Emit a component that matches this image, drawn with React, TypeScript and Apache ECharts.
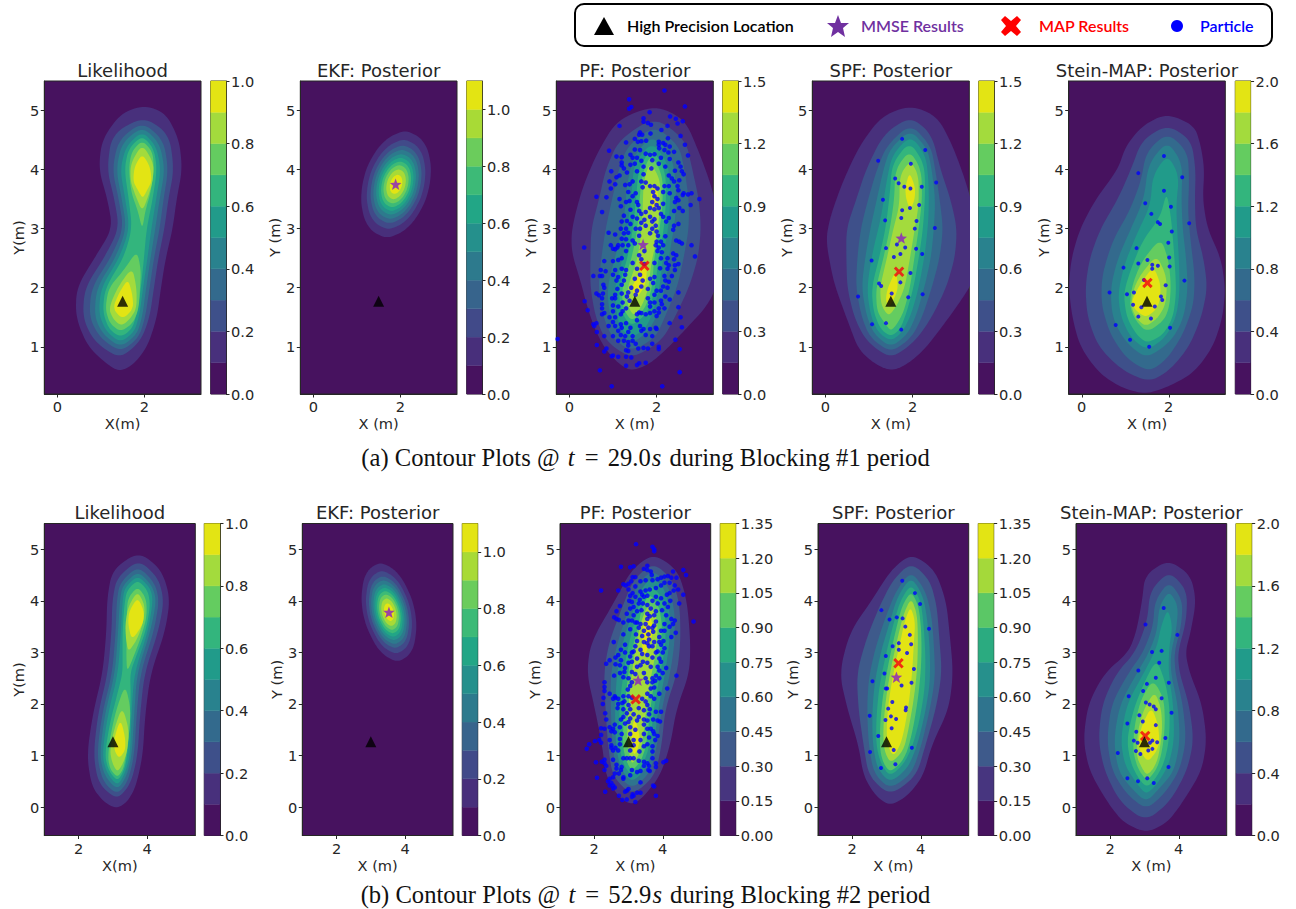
import React, { useEffect, useRef } from "react";
import * as echarts from "echarts";

type Rows = number[][];
type Outline = [number, Rows];

// ---------- colour bands ----------
const PAL9 = ["#47125f", "#47357f", "#3e5a8b", "#2f748e", "#26908c", "#2bab80", "#5bc766", "#a4d93a", "#e3e414"];
const PAL10 = ["#47125f", "#48307c", "#3e508a", "#336a8d", "#29828e", "#219b8a", "#33b57d", "#64cc60", "#a3db3d", "#e3e414"];
const PAL11 = ["#47125f", "#482f7b", "#414a89", "#37648c", "#2d7a8d", "#25908c", "#22a686", "#3dba77", "#6bcc5c", "#a8da36", "#e3e413"];

// ---------- colour-bar levels and ticks ----------
const LEVELS_1 = [0, .1, .2, .3, .4, .5, .6, .7, .8, .9, 1];
const LEVELS_11 = [0, .1, .2, .3, .4, .5, .6, .7, .8, .9, 1, 1.1];
const LEVELS_15 = [0, .15, .3, .45, .6, .75, .9, 1.05, 1.2, 1.35, 1.5];
const LEVELS_135 = [0, .15, .3, .45, .6, .75, .9, 1.05, 1.2, 1.35];
const LEVELS_2 = [0, .2, .4, .6, .8, 1, 1.2, 1.4, 1.6, 1.8, 2];
const TICKS_1 = [0, .2, .4, .6, .8, 1];
const TICKS_15 = [0, .3, .6, .9, 1.2, 1.5];
const TICKS_135 = [0, .15, .3, .45, .6, .75, .9, 1.05, 1.2, 1.35];
const TICKS_2 = [0, .4, .8, 1.2, 1.6, 2];

// ---------- contour outlines: [level index, rows of [y, x left, x right]] ----------
const A_LIK: Outline[] = [
[0,[[5.09,2,2],[4.95,1.45,2.5],[4.5,1.02,2.8],[4,.95,2.87],[3.5,1.15,2.74],[3,1.27,2.65],[2.5,.85,2.49],[2,.44,2.38],[1.5,.42,2.29],[1,.7,2.07],[.7,1.15,1.75],[.58,1.43,1.43]]],
[1,[[4.9,1.98,1.98],[4.6,1.25,2.57],[4,1.14,2.68],[3.5,1.31,2.55],[3,1.42,2.46],[2.5,1.07,2.32],[2,.63,2.22],[1.5,.58,2.12],[1.1,.83,1.92],[.79,1.43,1.43]]],
[2,[[4.81,1.95,1.95],[4.5,1.4,2.44],[4,1.26,2.55],[3.5,1.41,2.44],[3,1.52,2.35],[2.5,1.22,2.22],[2,.78,2.12],[1.5,.73,2.02],[1.15,.98,1.87],[.91,1.45,1.45]]],
[3,[[4.73,1.95,1.95],[4.45,1.48,2.35],[4,1.35,2.47],[3.5,1.48,2.35],[3,1.59,2.25],[2.5,1.33,2.14],[2,.9,2.04],[1.5,.85,1.95],[1.2,1.06,1.82],[.99,1.45,1.45]]],
[4,[[4.65,1.95,1.95],[4.4,1.58,2.27],[4,1.44,2.38],[3.5,1.56,2.27],[3,1.66,2.16],[2.5,1.42,2.07],[2,1,1.97],[1.55,.95,1.89],[1.25,1.13,1.77],[1.07,1.45,1.45]]],
[5,[[4.58,1.95,1.95],[4.35,1.63,2.22],[4,1.54,2.29],[3.5,1.64,2.19],[3,1.72,2.05],[2.5,1.52,1.99],[2,1.1,1.92],[1.6,1.04,1.84],[1.3,1.18,1.72],[1.16,1.45,1.45]]],
[6,[[4.5,1.95,1.95],[4.3,1.7,2.19],[4,1.64,2.22],[3.6,1.7,2.14],[3.3,1.85,2.02],[2.98,1.95,1.95]]],
[6,[[2.63,1.83,1.83],[2.3,1.53,1.92],[2,1.18,1.9],[1.65,1.1,1.87],[1.4,1.2,1.74],[1.25,1.45,1.45]]],
[7,[[4.44,1.95,1.95],[4.1,1.68,2.22],[3.8,1.68,2.19],[3.55,1.8,2.09],[3.29,1.95,1.95]]],
[7,[[2.35,1.72,1.72],[2,1.38,1.82],[1.65,1.18,1.82],[1.47,1.28,1.67],[1.35,1.47,1.47]]],
[8,[[4.27,1.95,1.95],[4.05,1.77,2.13],[3.8,1.74,2.17],[3.65,1.85,2.06],[3.51,1.96,1.96]]],
[8,[[2.15,1.62,1.62],[1.9,1.41,1.72],[1.65,1.27,1.75],[1.46,1.5,1.5]]],
];
const A_PF: Outline[] = [
[0,[[5.09,1.97,1.97],[4.85,1.1,2.65],[4.3,.65,2.97],[3.7,.3,3.27],[3,.05,3.47],[2.6,.05,3.47],[2.1,.26,3.42],[1.7,.4,3.17],[1.3,.58,2.67],[.95,.83,2.22],[.7,1.15,1.82],[.59,1.42,1.42]]],
[1,[[4.9,1.95,1.95],[4.5,1.13,2.67],[4,.83,2.82],[3.5,.68,2.97],[3,.5,3.02],[2.5,.48,2.95],[2,.48,2.74],[1.5,.6,2.42],[1.1,.83,2.12],[.79,1.42,1.42]]],
[2,[[4.75,1.95,1.95],[4.4,1.33,2.52],[4,1.13,2.64],[3.5,.98,2.74],[3,.83,2.74],[2.5,.73,2.62],[2,.66,2.47],[1.5,.78,2.19],[1.15,.98,1.97],[.92,1.42,1.42]]],
[3,[[4.58,1.9,1.9],[4.25,1.48,2.34],[3.8,1.33,2.44],[3.2,1.26,2.44],[2.6,1.08,2.3],[2,.86,2.2],[1.5,.93,1.99],[1.25,1.13,1.8],[1.05,1.42,1.42]]],
[4,[[4.48,1.9,1.9],[4.1,1.48,2.27],[3.6,1.43,2.32],[3,1.33,2.27],[2.5,1.23,2.14],[2,1.03,2.07],[1.55,1.08,1.9],[1.3,1.18,1.74],[1.15,1.42,1.42]]],
[5,[[4.38,1.88,1.88],[4,1.58,2.2],[3.5,1.53,2.22],[3,1.46,2.17],[2.5,1.33,2.04],[2,1.13,1.97],[1.6,1.18,1.82],[1.33,1.42,1.42]]],
[6,[[4.28,1.87,1.87],[3.9,1.66,2.14],[3.4,1.6,2.14],[3,1.56,2.07],[2.5,1.43,1.94],[2,1.2,1.9],[1.65,1.23,1.74],[1.42,1.43,1.43]]],
[7,[[4.14,1.85,1.85],[3.8,1.7,2.1],[3.3,1.68,2.07],[2.8,1.63,2],[2.4,1.53,1.87],[2,1.33,1.82],[1.7,1.33,1.67],[1.51,1.48,1.48]]],
[8,[[3.8,1.95,1.95],[3.5,1.84,2.06],[3.25,1.95,1.95]]],
[8,[[2.5,1.75,1.75],[2.2,1.57,1.78],[2,1.42,1.71],[1.8,1.52,1.52]]],
];
const A_SPF: Outline[] = [
[0,[[5.09,1.95,1.95],[4.9,1.28,2.57],[4.4,.78,2.92],[3.8,.4,3.22],[3.2,.11,3.44],[2.8,.01,3.44],[2.2,.16,3.44],[1.9,.28,3.22],[1.4,.53,2.74],[.95,.76,2.27],[.7,1.15,1.87],[.59,1.52,1.52]]],
[1,[[4.9,1.95,1.95],[4.6,1.33,2.44],[4,.93,2.64],[3.5,.71,2.87],[3,.48,3.02],[2.5,.48,2.97],[2,.5,2.77],[1.5,.66,2.44],[1.1,.93,2.07],[.79,1.5,1.5]]],
[2,[[4.78,1.95,1.95],[4.4,1.4,2.42],[4,1.18,2.52],[3.5,.98,2.62],[3,.81,2.7],[2.5,.73,2.62],[2,.7,2.44],[1.5,.83,2.22],[1.15,1.03,1.97],[.9,1.5,1.5]]],
[3,[[4.68,1.95,1.95],[4.35,1.48,2.34],[4,1.33,2.44],[3.5,1.18,2.52],[3,1.03,2.49],[2.5,.91,2.42],[2,.83,2.27],[1.5,.95,2.07],[1.2,1.13,1.87],[.99,1.5,1.5]]],
[4,[[4.58,1.95,1.95],[4.25,1.53,2.3],[3.8,1.4,2.37],[3.2,1.28,2.37],[2.6,1.08,2.29],[2,.95,2.14],[1.55,1.03,1.97],[1.25,1.2,1.77],[1.09,1.5,1.5]]],
[5,[[4.48,1.93,1.93],[4.1,1.53,2.27],[3.6,1.48,2.29],[3,1.38,2.24],[2.5,1.23,2.14],[2,1.06,2.02],[1.6,1.1,1.87],[1.3,1.26,1.72],[1.17,1.5,1.5]]],
[6,[[4.33,1.93,1.93],[4,1.6,2.2],[3.5,1.58,2.22],[3,1.48,2.14],[2.5,1.33,2.04],[2,1.16,1.94],[1.6,1.18,1.8],[1.38,1.38,1.64],[1.27,1.5,1.5]]],
[7,[[4.16,1.95,1.95],[3.9,1.7,2.14],[3.4,1.7,2.14],[3,1.56,2.05],[2.5,1.41,1.94],[2,1.25,1.82],[1.7,1.28,1.64],[1.51,1.45,1.45]]],
[8,[[3.96,1.93,1.93],[3.7,1.83,2.06],[3.5,1.85,2.05],[3.31,1.95,1.95]]],
[8,[[2.3,1.62,1.62],[2,1.43,1.67],[1.8,1.38,1.57],[1.65,1.45,1.45]]],
];
const A_STEIN: Outline[] = [
[0,[[4.95,1.95,1.95],[4.75,1.4,2.59],[4.4,1.01,2.74],[4,.83,2.82],[3.5,.32,2.78],[3,-.04,2.89],[2.5,-.24,3.2],[2,-.3,3.3],[1.5,-.22,3.24],[1,-.04,3.02],[.55,.4,2.57],[.3,.93,1.92],[.2,1.45,1.45]]],
[1,[[4.76,1.97,1.97],[4.5,1.38,2.52],[4,1.13,2.62],[3.5,.83,2.6],[3,.43,2.62],[2.5,.18,2.8],[2,.08,2.89],[1.5,.13,2.75],[1,.38,2.47],[.6,.93,2.02],[.4,1.55,1.55]]],
[2,[[4.63,1.97,1.97],[4.3,1.48,2.44],[3.8,1.36,2.47],[3.3,1.1,2.44],[2.8,.71,2.5],[2.2,.46,2.6],[1.7,.45,2.57],[1.2,.66,2.32],[.8,1.03,1.97],[.57,1.55,1.55]]],
[3,[[4.49,1.97,1.97],[4.1,1.53,2.32],[3.5,1.43,2.29],[3,1.13,2.32],[2.5,.83,2.4],[2,.66,2.44],[1.5,.7,2.35],[1.1,.98,2.07],[.79,1.48,1.48]]],
[4,[[4.26,1.97,1.97],[3.9,1.63,2.24],[3.4,1.58,2.17],[2.9,1.26,2.2],[2.4,.98,2.24],[1.9,.83,2.25],[1.5,.9,2.17],[1.15,1.13,1.92],[.94,1.5,1.5]]],
[5,[[3.63,1.95,1.95],[3.2,1.81,2.05],[2.8,1.4,2.1],[2.3,1.12,2.15],[1.9,.96,2.17],[1.5,1.03,2.1],[1.2,1.26,1.87],[1.06,1.5,1.5]]],
[6,[[2.85,1.82,1.82],[2.45,1.38,2],[2.05,1.16,2.05],[1.7,1.1,2.02],[1.45,1.23,1.9],[1.24,1.5,1.5]]],
[7,[[2.55,1.72,1.72],[2.25,1.38,1.92],[2,1.2,1.96],[1.7,1.13,1.92],[1.48,1.25,1.74],[1.34,1.47,1.47]]],
[8,[[2.37,1.65,1.65],[2.05,1.33,1.82],[1.75,1.13,1.79],[1.6,1.26,1.67],[1.5,1.47,1.47]]],
];
const B_LIK: Outline[] = [
[0,[[4.96,3.75,3.75],[4.6,2.98,4.42],[4.05,2.83,4.67],[3.4,2.81,4.52],[2.6,2.7,4.1],[1.8,2.41,3.94],[1,2.24,3.87],[.4,2.38,3.67],[.1,2.73,3.42],[-.03,3.1,3.1]]],
[1,[[4.8,3.75,3.75],[4.45,3.11,4.32],[4,2.98,4.49],[3.4,2.96,4.32],[2.6,2.85,3.92],[1.8,2.56,3.79],[1,2.43,3.72],[.45,2.58,3.52],[.14,3.12,3.12]]],
[2,[[4.68,3.73,3.73],[4.35,3.2,4.22],[4,3.11,4.35],[3.4,3.08,4.19],[2.6,2.98,3.8],[1.8,2.68,3.69],[1,2.53,3.62],[.5,2.7,3.44],[.24,3.12,3.12]]],
[3,[[4.58,3.73,3.73],[4.3,3.28,4.14],[4,3.2,4.27],[3.4,3.15,4.09],[2.6,3.06,3.7],[1.8,2.76,3.62],[1,2.61,3.55],[.6,2.76,3.4],[.33,3.13,3.13]]],
[4,[[4.5,3.72,3.72],[4.25,3.34,4.09],[4,3.28,4.17],[3.4,3.23,4.02],[2.6,3.15,3.62],[1.8,2.85,3.54],[1,2.68,3.5],[.65,2.83,3.35],[.41,3.13,3.13]]],
[5,[[4.41,3.72,3.72],[4.2,3.4,4.02],[3.9,3.33,4.09],[3.4,3.28,3.95],[2.95,3.28,3.69],[2.6,3.28,3.5],[2.2,3.13,3.52],[1.6,2.9,3.49],[1,2.76,3.42],[.7,2.88,3.32],[.5,3.13,3.13]]],
[6,[[4.28,3.72,3.72],[4.05,3.43,3.97],[3.7,3.4,3.99],[3.3,3.4,3.82],[2.95,3.39,3.62],[2.61,3.41,3.41]]],
[6,[[2.38,3.36,3.36],[1.9,3.1,3.52],[1.4,2.93,3.47],[.95,2.85,3.37],[.72,2.93,3.29],[.58,3.13,3.13]]],
[7,[[4.19,3.72,3.72],[3.9,3.45,3.94],[3.55,3.36,3.87],[3.25,3.38,3.7],[3,3.45,3.45]]],
[7,[[1.96,3.27,3.27],[1.5,3.03,3.47],[1.1,2.91,3.42],[.85,2.98,3.3],[.68,3.13,3.13]]],
[8,[[4.07,3.72,3.72],[3.8,3.47,3.91],[3.55,3.44,3.88],[3.23,3.55,3.55]]],
[8,[[1.71,3.22,3.22],[1.35,3.04,3.36],[1.1,3.04,3.36],[.94,3.18,3.18]]],
];
const B_PF: Outline[] = [
[0,[[4.92,3.72,3.72],[4.6,3.08,4.44],[4,2.6,4.71],[3.2,1.9,4.81],[2.6,1.78,4.78],[1.9,2.02,4.4],[1.2,2.23,4.22],[.6,2.34,3.92],[.2,2.7,3.44],[.04,3.1,3.1]]],
[1,[[4.75,3.72,3.72],[4.4,3.13,4.3],[3.9,2.83,4.5],[3.2,2.43,4.52],[2.6,2.28,4.42],[1.9,2.33,4.07],[1.2,2.4,3.97],[.6,2.53,3.77],[.22,3.1,3.1]]],
[2,[[4.61,3.7,3.7],[4.3,3.23,4.17],[3.8,2.98,4.35],[3.2,2.68,4.35],[2.6,2.48,4.22],[1.9,2.48,3.97],[1.2,2.53,3.84],[.65,2.66,3.62],[.35,3.1,3.1]]],
[3,[[4.48,3.7,3.7],[4.2,3.33,4.09],[3.7,3.08,4.22],[3.2,2.83,4.2],[2.6,2.66,4.07],[1.9,2.6,3.87],[1.2,2.63,3.74],[.75,2.76,3.52],[.47,3.1,3.1]]],
[4,[[4.33,3.65,3.65],[4.05,3.36,3.99],[3.6,3.18,4.09],[3.1,2.98,4.07],[2.5,2.83,3.9],[1.9,2.73,3.74],[1.2,2.73,3.62],[.85,2.83,3.44],[.59,3.1,3.1]]],
[5,[[4.14,3.62,3.62],[3.9,3.4,3.89],[3.5,3.28,3.99],[3,3.08,3.92],[2.4,2.96,3.74],[1.8,2.86,3.62],[1.2,2.83,3.52],[.9,2.93,3.37],[.69,3.1,3.1]]],
[6,[[3.99,3.62,3.62],[3.6,3.36,3.87],[3,3.18,3.8],[2.4,3.06,3.62],[1.8,2.98,3.5],[1.3,2.96,3.42],[1,3.03,3.3],[.83,3.1,3.1]]],
[7,[[3.76,3.6,3.6],[3.45,3.39,3.75],[3.1,3.4,3.57],[2.89,3.45,3.45]]],
[7,[[1.76,3.17,3.17],[1.4,3.09,3.33],[1.2,3.09,3.31],[.99,3.17,3.17]]],
];
const B_SPF: Outline[] = [
[0,[[4.92,3.73,3.73],[4.6,3.13,4.42],[4,2.56,4.74],[3.4,1.93,4.84],[2.6,1.62,4.95],[1.9,1.86,4.82],[1.2,2.18,4.32],[.6,2.33,4.07],[.22,2.68,3.62],[.02,3.1,3.1]]],
[1,[[4.75,3.72,3.72],[4.4,3.18,4.27],[3.9,2.8,4.47],[3.3,2.43,4.54],[2.6,2.13,4.62],[1.9,2.18,4.44],[1.2,2.33,4.14],[.6,2.48,3.87],[.22,3.1,3.1]]],
[2,[[4.58,3.72,3.72],[4.2,3.28,4.14],[3.7,2.98,4.32],[3.1,2.68,4.39],[2.5,2.48,4.42],[1.9,2.43,4.27],[1.2,2.48,4.02],[.65,2.63,3.74],[.35,3.1,3.1]]],
[3,[[4.47,3.72,3.72],[4.1,3.33,4.07],[3.6,3.1,4.2],[3,2.83,4.27],[2.4,2.65,4.27],[1.8,2.58,4.12],[1.2,2.6,3.9],[.75,2.73,3.62],[.47,3.1,3.1]]],
[4,[[4.33,3.72,3.72],[4,3.4,4],[3.5,3.18,4.09],[2.9,2.96,4.14],[2.3,2.78,4.12],[1.7,2.7,3.97],[1.2,2.7,3.77],[.85,2.83,3.52],[.59,3.1,3.1]]],
[5,[[4.19,3.72,3.72],[3.9,3.45,3.94],[3.4,3.26,4.02],[2.8,3.06,4.02],[2.2,2.9,3.94],[1.6,2.81,3.8],[1.1,2.81,3.62],[.85,2.91,3.42],[.68,3.1,3.1]]],
[6,[[4.06,3.72,3.72],[3.75,3.5,3.89],[3.3,3.33,3.92],[2.7,3.13,3.9],[2.1,2.98,3.8],[1.5,2.9,3.64],[1.1,2.93,3.5],[.84,3.12,3.12]]],
[7,[[3.9,3.7,3.7],[3.6,3.53,3.84],[3.2,3.4,3.8],[2.6,3.2,3.75],[2,3.05,3.65],[1.5,3,3.52],[1.2,3.03,3.4],[.98,3.2,3.2]]],
];
const B_STEIN: Outline[] = [
[0,[[4.8,3.69,3.69],[4.5,3.01,4.35],[4,2.93,4.51],[3.4,2.76,4.35],[3,2.53,4.19],[2.6,1.83,4.32],[2,1.35,4.68],[1.3,1.21,4.82],[.7,1.39,4.67],[.1,1.91,4.12],[-.3,2.38,3.67],[-.5,3.05,3.05]]],
[1,[[4.58,3.72,3.72],[4.2,3.16,4.25],[3.6,3.08,4.22],[3,2.73,3.97],[2.6,2.18,4.02],[2,1.76,4.3],[1.3,1.65,4.44],[.7,1.83,4.24],[.1,2.28,3.74],[-.28,3.03,3.03]]],
[2,[[4.39,3.72,3.72],[4,3.3,4.12],[3.5,3.25,4.07],[3,2.96,3.87],[2.6,2.53,3.9],[2,2.03,4.12],[1.3,1.9,4.22],[.7,2.05,4.02],[.25,2.48,3.57],[-.05,3.05,3.05]]],
[3,[[4.2,3.72,3.72],[3.9,3.43,3.99],[3.4,3.36,3.92],[3,3.13,3.77],[2.6,2.78,3.77],[2,2.28,3.97],[1.3,2.1,4.04],[.7,2.23,3.87],[.35,2.63,3.42],[.1,3.05,3.05]]],
[4,[[3.86,3.68,3.68],[3.5,3.48,3.82],[3.1,3.36,3.72],[2.6,2.98,3.7],[2,2.48,3.84],[1.3,2.3,3.87],[.8,2.43,3.7],[.45,2.78,3.37],[.24,3.05,3.05]]],
[5,[[2.88,3.35,3.35],[2.4,2.98,3.62],[1.9,2.68,3.74],[1.3,2.48,3.72],[.85,2.6,3.57],[.55,2.83,3.32],[.38,3.07,3.07]]],
[6,[[2.48,3.25,3.25],[2.1,2.9,3.57],[1.6,2.71,3.6],[1.1,2.66,3.52],[.75,2.8,3.37],[.5,3.07,3.07]]],
[7,[[2.25,3.3,3.3],[1.9,2.98,3.49],[1.5,2.81,3.52],[1,2.76,3.42],[.75,2.93,3.27],[.62,3.07,3.07]]],
[8,[[1.95,3.2,3.2],[1.6,2.93,3.4],[1.25,2.8,3.44],[1.05,2.9,3.32],[.88,3.1,3.1]]],
];
// EKF ellipses: one outline read round the centre, and how far each level reaches
const EKF_A_CENTRE = [1.9, 3.75];
const EKF_A_ROWS: Rows = [[.92,.21,.21],[.8,-.17,.55],[.6,-.44,.73],[.3,-.67,.81],[0,-.78,.78],[-.3,-.81,.67],[-.6,-.73,.44],[-.8,-.55,.17],[-.92,-.21,-.21]];
const EKF_B_CENTRE = [3.53, 3.78];
const EKF_B_ROWS: Rows = [[.97,-.25,-.25],[.85,-.57,.12],[.65,-.74,.39],[.3,-.81,.65],[0,-.77,.77],[-.3,-.65,.81],[-.65,-.39,.74],[-.85,-.12,.57],[-.97,.25,.25]];
const EKF_REACH = [1, .84, .73, .65, .57, .5, .43, .36, .28, .18];

// ---------- particles as x,y pairs ----------
const SPF_A = [1.76,4.52,2.29,4.33,1.21,4.15,1.96,4.1,1.6,3.85,1.68,3.77,1.81,3.71,1.95,3.68,2.21,3.71,2.54,3.78,1.32,3.49,2.15,3.4,1.94,3.35,1.76,3.31,1.74,3.18,1.37,3.14,2.09,3.13,2.05,3,2.51,3.01,1.64,2.73,1.39,2.67,1.83,2.68,2.08,2.66,1.72,2.57,2.22,2.57,1.57,2.52,1.06,2.46,1.95,2.25,1.72,2.09,1.23,2.07,1.28,2.03,1.52,1.9,.75,1.85,2.23,1.89,1.9,1.84,1.07,1.38,1.39,1.4,1.74,1.29];
const STEIN_A = [1.89,4.23,1.3,3.94,2.31,3.87,1.89,3.64,1.46,3.43,2.05,3.37,1.6,3.25,1.75,3.11,1.8,3.08,2.47,3.09,2.07,2.95,1.99,2.76,1.26,2.67,2.01,2.51,1.51,2.47,1.3,2.41,1.62,2.39,1.75,2.37,2.02,2.36,.96,2.34,1.62,2.32,1.43,2.13,2.36,2.12,1.93,2.04,.64,1.92,1.2,1.92,1.04,1.89,1.82,1.85,1.85,1.79,1.18,1.71,1.68,1.68,1.37,1.67,1.3,1.51,1.59,1.48,.78,1.37,2.03,1.32,1.11,1.12,1.55,1];
const SPF_B = [3.46,4.39,3.83,4.15,3.98,3.94,2.85,3.82,3.09,3.64,3.3,3.68,3.47,3.66,3.55,3.5,4.24,3.46,3.68,3.34,3.36,3.18,3.72,3.16,3.18,3.12,3.36,3.05,3.6,2.99,2.98,2.93,3.8,2.68,2.94,2.59,2.59,2.44,3.73,2.41,3.44,2.36,2.98,2.3,3.02,2.3,3.17,2.04,3.57,1.93,3.56,1.88,3.05,1.91,2.51,1.77,3.13,1.76,3.28,1.71,2.97,1.69,3.15,1.53,2.76,1.38,3.74,1.15,3.21,1.11,2.52,1.07,3.26,.83,2.84,.76];
const STEIN_B = [3.56,3.86,3.03,3.54,3.96,3.34,3.5,3.03,3.22,3.01,3.43,2.8,2.82,2.65,3.33,2.51,3.71,2.41,3.07,2.39,2.96,2.25,2.54,2.15,3.5,2.11,3.04,2.03,3.15,1.99,3.27,1.95,3.33,1.9,3.79,1.83,2.85,1.78,2.95,1.66,2.5,1.62,3.33,1.59,2.76,1.46,3.61,1.34,2.69,1.29,2.8,1.25,3.23,1.29,3.16,1.25,3.37,1.26,2.75,1.09,3.11,1.1,3.23,1.13,2.88,1.03,2.22,1.05,3.7,.78,2.5,.56,3.08,.56,2.81,.5,3.27,.47];
const PF_A = [2.18,5.34,1.37,5.19,1.42,5.06,1.37,5.03,2.65,5.07,1.84,4.97,2.31,4.9,2.44,4.86,2.6,4.82,2.48,4.78,1.7,4.87,1.7,4.81,1.8,4.79,1.87,4.76,1.15,4.74,2.25,4.74,2.11,4.67,1.62,4.63,1.6,4.59,1.67,4.59,1.86,4.61,2.55,4.57,2.26,4.53,1.5,4.52,1.3,4.46,1.57,4.47,1.65,4.48,1.76,4.49,2.05,4.47,2.05,4.42,2.15,4.45,2.2,4.42,2.3,4.39,2.65,4.42,2.06,4.36,.91,4.32,1.5,4.34,1.62,4.33,2.18,4.33,2.27,4.29,2.4,4.3,1.75,4.27,1.85,4.25,1.95,4.26,2.72,4.24,1.08,4.22,1.2,4.21,1.4,4.25,1.45,4.2,1.55,4.2,1.9,4.16,2.1,4.2,2.3,4.18,1.65,4.15,1.2,4.12,1.2,4.07,1.4,4.08,1.5,4.1,1.7,4.05,2.05,4.1,2.2,4.05,2.5,4.12,2.55,4.05,1.25,4.02,1.88,4.02,2.42,3.98,2.58,3.97,2.62,3.92,.96,3.97,1.15,3.9,1.08,3.87,1.32,3.95,1.55,3.97,1.7,3.92,2.28,3.9,2.35,3.85,2.4,3.8,2.52,3.82,.92,3.8,1.05,3.75,1.45,3.8,1.65,3.8,1.75,3.78,1.85,3.72,2.18,3.72,2.28,3.72,2.48,3.72,.95,3.68,1.28,3.74,1.38,3.75,1.68,3.7,1.95,3.72,2.02,3.68,2.5,3.65,2.15,3.62,2.3,3.6,2.62,3.6,2.72,3.58,2.8,3.6,2.6,3.57,1.35,3.62,1.45,3.55,1.52,3.6,1.92,3.62,.62,3.54,.85,3.53,1.15,3.5,1.95,3.55,2.02,3.5,2.45,3.52,2.42,3.45,2.5,3.48,2.98,3.5,1.3,3.45,1.38,3.47,1.55,3.45,1.58,3.4,1.9,3.45,2,3.4,2.15,3.42,2.78,3.4,1.18,3.38,1.85,3.35,1.95,3.33,2.05,3.35,2.52,3.35,2.6,3.3,.75,3.28,1.4,3.32,1.6,3.3,1.65,3.25,1.75,3.28,2.1,3.25,2.15,3.2,2.4,3.3,1.25,3.22,1.45,3.2,1.55,3.17,1.72,3.15,1.85,3.2,1.9,3.12,1.95,3.16,2.22,3.12,2.28,3.18,1.2,3.12,1.32,3.13,1.4,3.08,1.65,3.1,1.75,3.05,1.98,3.05,2.4,3.05,2.5,3.08,1.18,3,1.3,3,1.52,3,1.62,3,1.9,3,2,2.95,2.38,2.98,.9,2.93,1.05,2.9,1.25,2.92,1.35,2.93,1.6,2.88,1.85,2.92,2.03,2.88,2.2,2.87,1.2,2.83,1.3,2.82,1.45,2.8,1.5,2.75,2,2.78,2.1,2.78,2.45,2.8,2.52,2.78,2.58,2.75,.95,2.72,1.05,2.65,1.12,2.72,1.22,2.72,1.35,2.72,1.98,2.72,2.05,2.68,2.15,2.72,2.8,2.72,.34,2.68,1,2.66,1.1,2.68,1.3,2.62,1.72,2.62,2.02,2.62,2.12,2.6,2.38,2.58,2.45,2.55,2.88,2.53,1.2,2.5,1.12,2.47,1.6,2.55,1.65,2.48,2.1,2.5,2.25,2.5,2.4,2.48,.8,2.45,1,2.45,1.45,2.42,1.72,2.4,1.95,2.42,2.22,2.42,2.28,2.38,2.42,2.38,2.5,2.4,.72,2.3,.83,2.28,1.05,2.3,1.2,2.32,1.3,2.3,1.55,2.32,2.08,2.33,2.25,2.32,2.42,2.3,.55,2.2,.7,2.2,.75,2.2,1,2.22,1.12,2.18,1.28,2.22,1.62,2.22,1.95,2.18,2.18,2.2,2.35,2.2,1.08,2.12,1.25,2.12,1.5,2.15,1.68,2.12,1.85,2.15,2.2,2.12,2.28,2.1,.78,2.05,.8,2,1.2,2.05,1.42,2,1.65,2.02,1.92,2.08,2.15,2.02,2.25,2,1.1,1.98,1.35,1.92,1.55,1.95,1.8,1.98,2,1.95,2.1,1.95,2.5,1.92,.62,1.9,.68,1.87,.77,1.9,1.05,1.88,1.2,1.9,1.32,1.85,1.52,1.88,1.95,1.88,2.2,1.85,.75,1.82,.98,1.82,1.05,1.82,1.8,1.82,2.1,1.78,2.3,1.8,.35,1.77,.75,1.72,1.22,1.75,1.38,1.78,1.85,1.75,1.95,1.75,2.12,1.72,.75,1.65,1,1.7,1.12,1.68,1.3,1.65,1.85,1.68,2.05,1.65,2.18,1.65,2.5,1.67,.42,1.62,.8,1.57,1,1.6,1.22,1.6,1.6,1.58,1.75,1.55,1.95,1.6,2.05,1.58,.75,1.55,.92,1.5,1.05,1.5,1.18,1.55,1.55,1.55,1.65,1.57,1.85,1.57,2,1.52,2.55,1.5,.55,1.38,.57,1.35,.62,1.4,1,1.42,1.18,1.38,1.3,1.4,1.55,1.45,2.3,1.4,.9,1.35,1.05,1.35,1.2,1.32,1.4,1.32,1.62,1.35,1.7,1.3,1.85,1.3,1.98,1.32,2,1.3,2.58,1.33,.63,1.25,1.12,1.27,1.35,1.25,1.65,1.27,.8,1.18,1,1.18,1.18,1.2,1.28,1.18,1.45,1.18,1.75,1.2,1.9,1.18,-.27,1.13,2.43,1.12,1.12,1.1,1.25,1.1,1.35,1.08,1.45,1.1,1.52,1.05,1.9,1.05,.63,1.03,1.35,1.02,2.05,1,1.58,.97,1.7,.98,1.8,.97,2.05,.96,2.53,.96,.85,.97,.8,.92,1.35,.93,1.3,.94,1,.85,.97,.84,1.12,.83,1.3,.83,1.42,.82,1.6,.72,1.75,.73,1.3,.68,1.55,.69,.7,.6,2.53,.57,.97,.33,2.13,.33];
const PF_B = [3.22,5.1,3.7,5.05,3.75,5,3.75,4.96,2.78,4.66,3.05,4.65,3.15,4.67,3.12,4.46,3.2,4.46,3.45,4.62,3.55,4.68,3.55,4.6,3.65,4.57,3.68,4.5,4.3,4.57,4.6,4.6,4.68,4.5,2.85,4.32,2.92,4.3,3,4.33,3.08,4.38,3.2,4.28,3.35,4.38,3.5,4.4,3.7,4.4,3.85,4.42,3.95,4.45,4.05,4.47,4.15,4.48,4.25,4.45,4.4,4.45,2.2,4.2,2.7,4.2,3,4.22,3.12,4.15,3.05,4.1,3.35,4.18,3.4,4.12,3.5,4.2,3.62,4.22,3.8,4.25,3.95,4.3,4.05,4.35,4.2,4.35,4.35,4.3,4.45,4.22,3.2,4.08,3.02,4,3.1,3.98,3.33,4.02,3.45,4.08,3.55,4.1,3.8,4.08,3.95,4.05,4.12,4.12,4.2,4.15,4.32,4.2,4.6,4.12,3.3,3.95,3.42,3.95,3.55,3.92,3.7,4,3.85,3.95,4.05,3.95,4.22,4,4.48,3.95,2.75,3.9,3.05,3.85,3.15,3.88,3.25,3.8,3.38,3.82,3.65,3.85,3.8,3.8,3.98,3.82,4.15,3.88,2.65,3.8,2.95,3.75,3.15,3.72,3.55,3.75,3.62,3.7,3.75,3.72,4.1,3.72,2.58,3.68,2.65,3.65,2.72,3.63,3,3.62,3.1,3.62,3.2,3.58,3.55,3.65,3.8,3.6,4.25,3.65,4.35,3.62,4.9,3.6,2.85,3.58,3.25,3.58,3.35,3.55,3.5,3.55,3.75,3.52,4.05,3.55,4.2,3.5,4.3,3.55,3.3,3.48,3.58,3.48,3.7,3.48,3.95,3.42,4.05,3.42,3.05,3.45,3.45,3.42,3.58,3.35,3.72,3.4,4.38,3.38,2.85,3.35,3.22,3.35,3.4,3.32,3.9,3.3,4.25,3.3,3.25,3.22,3.6,3.25,4.02,3.22,3.45,3.2,3.55,3.18,3.75,3.2,3.9,3.2,2.57,3.2,2.9,3.15,3.2,3.12,3.35,3.05,3.6,3.12,3.7,3.12,3.95,3.15,4.05,3.08,2.78,3.05,2.9,3,3.1,3,3.15,3.02,3.4,2.97,3.8,3,3.85,3.02,4,3,2.7,2.95,2.62,2.9,3.05,2.92,3.25,2.88,3.55,2.95,3.7,2.9,3.9,2.88,2.45,2.85,2.78,2.85,3,2.8,3.1,2.82,3.42,2.82,3.55,2.8,3.95,2.82,4.1,2.7,2.62,2.77,2.75,2.75,2.35,2.78,2.9,2.7,3.25,2.72,3.35,2.75,3.65,2.72,3.85,2.72,2.75,2.6,2.88,2.62,3.1,2.62,3.2,2.58,3.45,2.6,3.9,2.65,4,2.6,4.4,2.55,2.58,2.55,2.85,2.52,3,2.5,3.5,2.5,3.7,2.5,3.8,2.55,3.9,2.5,2.3,2.42,2.3,2.33,3.1,2.42,3.05,2.35,3.55,2.42,3.7,2.42,3.78,2.45,2.98,2.28,3.65,2.3,3.75,2.32,4.13,2.3,2.3,2.25,2.45,2.2,2.6,2.15,2.62,2.12,2.85,2.15,3,2.15,3.1,2.12,3.55,2.2,3.65,2.15,3.9,2.2,2.27,2.12,2.55,2.1,2.7,2.1,2.88,2.05,3.4,2.1,3.5,2.05,3.75,2.1,2.25,2,2.7,2,2.82,2.02,3,1.98,3.55,1.98,2.68,1.92,2.85,1.9,3.05,1.9,3.3,1.92,3.45,1.88,3.62,1.9,3.8,1.85,3.95,1.85,2.32,1.82,2.95,1.82,3.15,1.8,3.6,1.8,2.85,1.75,3.05,1.72,3.3,1.75,2.35,1.7,2.78,1.7,3.25,1.68,3.45,1.7,3.55,1.68,3.72,1.7,3.85,1.68,3.92,1.66,2.6,1.6,2.9,1.62,3,1.65,3.45,1.6,2.2,1.53,2.3,1.52,2.45,1.55,2.55,1.52,2.75,1.55,3.05,1.55,3.2,1.5,3.55,1.52,3.65,1.52,3.72,1.47,2.5,1.47,2.6,1.45,2.8,1.42,3.05,1.42,3.45,1.42,3.75,1.42,3.85,1.38,2.2,1.4,2.75,1.32,3.6,1.35,3.78,1.3,2.02,1.28,2.15,1.3,2.2,1.25,2.45,1.3,3.15,1.3,3.35,1.3,3.55,1.22,1.85,1.22,2.5,1.2,2.75,1.22,2.5,1.15,2.62,1.15,3.15,1.2,3.45,1.18,3.7,1.18,1.78,1.13,2.55,1.1,2.7,1.1,3.05,1.1,3.32,1.08,3.7,1.08,2.85,.95,2.95,.95,3.05,.95,3.15,.95,3.7,.95,2.3,.92,2.22,.88,2.3,.85,2.35,.8,2.55,.92,3.3,.9,3.45,.88,4.1,.9,2.05,.87,3.55,.85,3.8,.85,4.02,.87,2.65,.82,2.8,.78,3.45,.8,3.6,.8,3.8,.78,2.3,.72,2.65,.75,2.78,.72,3.1,.72,3.58,.72,3.62,.7,2.6,.65,2.72,.65,3.25,.68,3.35,.7,3.05,.62,2.85,.58,2.08,.57,2.55,.58,2.45,.55,2.4,.5,2.5,.47,2.85,.55,2.55,.42,2.45,.42,3.35,.48,2.6,.38,2.55,.36,3,.35,2.95,.32,2.9,.3,3.72,.42,3.75,.4,2.32,.3,3.25,.28,3.35,.28,3.12,.25,3.8,.22,2.72,.22,3.1,.2,3.15,.22,2.95,.15,2.82,.14,3.2,.1];

// ---------- result markers ----------
const TRUTH_A = [1.5, 1.77];
const TRUTH_B = [3, 1.27];
const MMSE = { ekfA: [1.89, 3.75], pfA: [1.69, 2.73], spfA: [1.74, 2.84], ekfB: [3.53, 3.78], pfB: [3.28, 2.46], spfB: [3.29, 2.52] };
const MAP = { pfA: [1.72, 2.37], spfA: [1.69, 2.27], steinA: [1.51, 2.08], pfB: [3.21, 2.09], spfB: [3.35, 2.79], steinB: [3.02, 1.38] };

// ---------- text ----------
const TITLES = ["Likelihood", "EKF: Posterior", "PF: Posterior", "SPF: Posterior", "Stein-MAP: Posterior"];
const CAPTION_A = "(a) Contour Plots @ {t|t} {e|=} 29.0{s|s} during Blocking #1 period";
const CAPTION_B = "(b) Contour Plots @ {t|t} {e|=} 52.9{s|s} during Blocking #2 period";
const LEGEND_NAMES = ["High Precision Location", "MMSE Results", "MAP Results", "Particle"];

// ---------- layout ----------
const ROW_A = { top: 81, bottom: 394, x: [-0.3, 3.3], y: [0.2, 5.5], xt: [0, 2], yt: [1, 2, 3, 4, 5] };
const ROW_B = { top: 523.5, bottom: 835.5, x: [1, 5.4], y: [-0.55, 5.5], xt: [2, 4], yt: [0, 1, 2, 3, 4, 5] };
const FRAMES_A = [[44.3, 201, 210.7, 226], [300.3, 457, 466.7, 482], [556.3, 713.3, 722.7, 738], [812.3, 969.3, 978.7, 994], [1068.7, 1225.3, 1235.3, 1250.6]];
const FRAMES_B = [[44.3, 195.3, 204.3, 220], [302.3, 453, 462.3, 477.7], [560, 710.7, 720.3, 735.7], [818, 968.7, 978.3, 993.7], [1076, 1226.7, 1236, 1251.7]];

const STAR = "path://M50 0 L63 35 L100 36 L71 59 L82 96 L50 75 L18 96 L29 59 L0 36 L37 35 Z";
const CROSS = "path://M20 0 L50 30 L80 0 L100 20 L70 50 L100 80 L80 100 L50 70 L20 100 L0 80 L30 50 L0 20 Z";
const INK = "#262626";
const SANS = "DejaVu Sans";

function ekf(centre: number[], rows: Rows): Outline[] {
  return EKF_REACH.map((r, i) => [i, rows.map((w) => [centre[1] + r * w[0], centre[0] + r * w[1], centre[0] + r * w[2]])] as Outline);
}
function pairs(flat: number[]): number[][] {
  const out: number[][] = [];
  for (let i = 0; i + 1 < flat.length; i += 2) out.push([flat[i], flat[i + 1]]);
  return out;
}
function outlinePoints(rows: Rows): number[][] {
  const right = rows.map((r) => [r[2], r[0]]);
  const left: number[][] = [];
  for (let i = rows.length - 2; i > 0; i--) left.push([rows[i][1], rows[i][0]]);
  return right.concat(left);
}
// rounds the corners of a pixel outline so that the bands read as smooth contours
function rounded(points: number[][], passes: number): number[][] {
  let pts = points;
  const q = 0.22;
  for (let k = 0; k < passes; k++) {
    const next: number[][] = [];
    pts.forEach((p, i) => {
      const n = pts[(i + 1) % pts.length];
      next.push([p[0] + (n[0] - p[0]) * q, p[1] + (n[1] - p[1]) * q]);
      next.push([p[0] + (n[0] - p[0]) * (1 - q), p[1] + (n[1] - p[1]) * (1 - q)]);
    });
    pts = next;
  }
  return pts;
}

interface PanelSpec {
  row: typeof ROW_A; frame: number[]; title: string; xName: string; yName: string;
  outlines: Outline[]; pal: string[]; levels: number[]; cticks: number[];
  particles?: number[]; dot?: number; truth: number[]; mmse?: number[]; map?: number[];
}

function buildOption() {
  const specs: PanelSpec[] = [
    { row: ROW_A, frame: FRAMES_A[0], title: TITLES[0], xName: "X(m)", yName: "Y(m)", outlines: A_LIK, pal: PAL10, levels: LEVELS_1, cticks: TICKS_1, truth: TRUTH_A },
    { row: ROW_A, frame: FRAMES_A[1], title: TITLES[1], xName: "X (m)", yName: "Y (m)", outlines: ekf(EKF_A_CENTRE, EKF_A_ROWS), pal: PAL11, levels: LEVELS_11, cticks: TICKS_1, truth: TRUTH_A, mmse: MMSE.ekfA },
    { row: ROW_A, frame: FRAMES_A[2], title: TITLES[2], xName: "X (m)", yName: "Y (m)", outlines: A_PF, pal: PAL10, levels: LEVELS_15, cticks: TICKS_15, particles: PF_A, dot: 4.6, truth: TRUTH_A, mmse: MMSE.pfA, map: MAP.pfA },
    { row: ROW_A, frame: FRAMES_A[3], title: TITLES[3], xName: "X (m)", yName: "Y (m)", outlines: A_SPF, pal: PAL10, levels: LEVELS_15, cticks: TICKS_15, particles: SPF_A, dot: 4, truth: TRUTH_A, mmse: MMSE.spfA, map: MAP.spfA },
    { row: ROW_A, frame: FRAMES_A[4], title: TITLES[4], xName: "X (m)", yName: "Y (m)", outlines: A_STEIN, pal: PAL10, levels: LEVELS_2, cticks: TICKS_2, particles: STEIN_A, dot: 4, truth: TRUTH_A, map: MAP.steinA },
    { row: ROW_B, frame: FRAMES_B[0], title: TITLES[0], xName: "X(m)", yName: "Y(m)", outlines: B_LIK, pal: PAL10, levels: LEVELS_1, cticks: TICKS_1, truth: TRUTH_B },
    { row: ROW_B, frame: FRAMES_B[1], title: TITLES[1], xName: "X (m)", yName: "Y (m)", outlines: ekf(EKF_B_CENTRE, EKF_B_ROWS), pal: PAL11, levels: LEVELS_11, cticks: TICKS_1, truth: TRUTH_B, mmse: MMSE.ekfB },
    { row: ROW_B, frame: FRAMES_B[2], title: TITLES[2], xName: "X (m)", yName: "Y (m)", outlines: B_PF, pal: PAL9, levels: LEVELS_135, cticks: TICKS_135, particles: PF_B, dot: 4.6, truth: TRUTH_B, mmse: MMSE.pfB, map: MAP.pfB },
    { row: ROW_B, frame: FRAMES_B[3], title: TITLES[3], xName: "X (m)", yName: "Y (m)", outlines: B_SPF, pal: PAL9, levels: LEVELS_135, cticks: TICKS_135, particles: SPF_B, dot: 4, truth: TRUTH_B, mmse: MMSE.spfB, map: MAP.spfB },
    { row: ROW_B, frame: FRAMES_B[4], title: TITLES[4], xName: "X (m)", yName: "Y (m)", outlines: B_STEIN, pal: PAL10, levels: LEVELS_2, cticks: TICKS_2, particles: STEIN_B, dot: 4, truth: TRUTH_B, map: MAP.steinB },
  ];

  const grid: any[] = [], xAxis: any[] = [], yAxis: any[] = [], series: any[] = [], title: any[] = [];
  const tickLabel = { fontFamily: SANS, fontSize: 14.6, color: INK };
  const line = { show: true, onZero: false, lineStyle: { color: INK, width: 1 } };
  const tickLine = { show: true, lineStyle: { color: INK, width: 1 } };

  specs.forEach((s) => {
    const [l, r, cl, cr] = s.frame;
    const { top, bottom } = s.row;
    const g = grid.length;
    grid.push({ left: l, top, width: r - l, height: bottom - top, show: true, backgroundColor: s.pal[0], borderColor: INK, borderWidth: 1, containLabel: false });
    xAxis.push({
      gridIndex: g, type: "value", min: s.row.x[0], max: s.row.x[1], splitLine: { show: false },
      axisLine: line, axisTick: { ...tickLine, length: 3.5, customValues: s.row.xt },
      axisLabel: { ...tickLabel, margin: 5, customValues: s.row.xt, formatter: (v: number) => String(v) },
      name: s.xName, nameLocation: "middle", nameGap: 22, nameTextStyle: tickLabel,
    });
    yAxis.push({
      gridIndex: g, type: "value", min: s.row.y[0], max: s.row.y[1], splitLine: { show: false },
      axisLine: line, axisTick: { ...tickLine, length: 3.5, customValues: s.row.yt },
      axisLabel: { ...tickLabel, margin: 5, customValues: s.row.yt, formatter: (v: number) => String(v) },
      name: s.yName, nameLocation: "middle", nameGap: 18, nameTextStyle: tickLabel,
    });
    title.push({ text: s.title, left: (l + r) / 2, top: top - 20, textAlign: "center", padding: 0, textStyle: { fontFamily: SANS, fontSize: 18, fontWeight: "normal", color: INK } });

    series.push({
      type: "custom", xAxisIndex: g, yAxisIndex: g, clip: true, silent: true, z: 2,
      data: s.outlines.map((o, i) => [s.row.x[0], s.row.y[0], i]),
      renderItem: (_: any, api: any) => {
        const o = s.outlines[api.value(2)];
        const pts = rounded(outlinePoints(o[1]).map((p) => api.coord(p)), 3);
        return { type: "polygon", shape: { points: pts }, style: { fill: s.pal[o[0] + 1] } };
      },
    });
    if (s.particles) series.push({ type: "scatter", xAxisIndex: g, yAxisIndex: g, silent: true, z: 3, symbol: "circle", symbolSize: s.dot, itemStyle: { color: "#0000ff" }, data: pairs(s.particles) });
    if (s.map) series.push({ type: "scatter", xAxisIndex: g, yAxisIndex: g, silent: true, z: 4, symbol: CROSS, symbolSize: 10.5, itemStyle: { color: "#f5000f" }, data: [s.map] });
    if (s.mmse) series.push({ type: "scatter", xAxisIndex: g, yAxisIndex: g, silent: true, z: 4, symbol: STAR, symbolSize: 11.5, itemStyle: { color: "#8a1cc4" }, data: [s.mmse] });
    series.push({ type: "scatter", xAxisIndex: g, yAxisIndex: g, silent: true, z: 5, symbol: "triangle", symbolSize: [11, 11], itemStyle: { color: "#000" }, data: [s.truth] });

    // colour bar
    const c = grid.length;
    const last = s.levels[s.levels.length - 1];
    grid.push({ left: cl, top, width: cr - cl, height: bottom - top, show: true, borderColor: INK, borderWidth: 1 });
    xAxis.push({ gridIndex: c, type: "value", min: 0, max: 1, show: false });
    yAxis.push({
      gridIndex: c, type: "value", position: "right", min: 0, max: last, splitLine: { show: false },
      axisLine: line, axisTick: { ...tickLine, length: 3.5, customValues: s.cticks },
      axisLabel: { ...tickLabel, margin: 5, customValues: s.cticks, showMinLabel: true, showMaxLabel: true, formatter: (v: number) => v.toFixed(s.levels === LEVELS_135 ? 2 : 1) },
    });
    series.push({
      type: "custom", xAxisIndex: c, yAxisIndex: c, silent: true, z: 2,
      data: s.levels.slice(0, -1).map((lo, i) => [0, lo, i]),
      renderItem: (_: any, api: any) => {
        const i = api.value(2);
        const a = api.coord([0, s.levels[i]]);
        const b = api.coord([1, s.levels[i + 1]]);
        return { type: "rect", shape: { x: a[0], y: b[1], width: b[0] - a[0], height: a[1] - b[1] }, style: { fill: s.pal[i], stroke: s.pal[i], lineWidth: 0.4 } };
      },
    });
  });

  const serif = "Liberation Serif";
  const capStyle = {
    fontFamily: serif, fontSize: 24.6, fontWeight: "normal", color: "#111",
    rich: {
      t: { fontFamily: serif, fontStyle: "italic", fontSize: 24.6, color: "#111", padding: [0, 1, 0, 2] },
      s: { fontFamily: serif, fontStyle: "italic", fontSize: 24.6, color: "#111", padding: [0, 2, 0, 1] },
      e: { fontFamily: serif, fontSize: 24.6, color: "#111", padding: [0, 3, 0, 3] },
    },
  };
  title.push({ text: CAPTION_A, left: 645.5, top: 445, textAlign: "center", padding: 0, textStyle: capStyle });
  title.push({ text: CAPTION_B, left: 645.5, top: 881.5, textAlign: "center", padding: 0, textStyle: capStyle });

  const legendFont = (fill: string, x: number, text: string) => ({
    type: "text", x, y: 25, z: 20, style: { text, fill, font: "600 16px Lato, sans-serif", textVerticalAlign: "middle", textBaseline: "middle" },
  });
  const graphic = [
    { type: "rect", z: 19, shape: { x: 575, y: 4, width: 697, height: 42, r: 9 }, style: { fill: "#fff", stroke: "#000", lineWidth: 2 } },
    { type: "polygon", z: 20, shape: { points: [[604, 17], [614, 35], [594, 35]] }, style: { fill: "#000" } },
    { type: "polygon", z: 20, shape: { points: [[838, 15], [841, 23], [849, 23], [843, 28], [845, 37], [838, 32], [831, 37], [833, 28], [827, 23], [835, 23]] }, style: { fill: "#7030a0" } },
    { type: "polygon", z: 20, shape: { points: [[1005, 16], [1011, 21], [1017, 16], [1021, 20], [1016, 26], [1021, 32], [1017, 36], [1011, 31], [1005, 36], [1001, 32], [1006, 26], [1001, 20]] }, style: { fill: "#ff0000" } },
    { type: "circle", z: 20, shape: { cx: 1177, cy: 26, r: 6 }, style: { fill: "#0000ff" } },
    legendFont("#000", 627, LEGEND_NAMES[0]),
    legendFont("#7030a0", 861, LEGEND_NAMES[1]),
    legendFont("#ff0000", 1039, LEGEND_NAMES[2]),
    legendFont("#0000ff", 1200, LEGEND_NAMES[3]),
  ];

  return { animation: false, backgroundColor: "#fff", title, grid, xAxis, yAxis, series, graphic, tooltip: { show: false } };
}

export default function App() {
  const ref = useRef<HTMLDivElement>(null);
  useEffect(() => {
    const chart = echarts.init(ref.current!, undefined, { renderer: "svg" });
    chart.setOption(buildOption() as any);
    return () => chart.dispose();
  }, []);
  return <div ref={ref} style={{ position: "absolute", left: 0, top: 0, width: 1296, height: 909 }} />;
}
